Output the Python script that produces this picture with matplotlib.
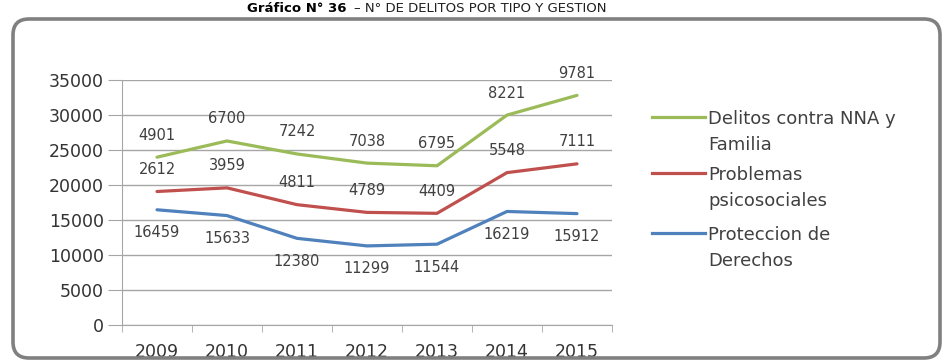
import numpy as np
import matplotlib
matplotlib.use('Agg')
import matplotlib.pyplot as plt
from matplotlib.patches import FancyBboxPatch
from matplotlib.lines import Line2D

years = ['2009', '2010', '2011', '2012', '2013', '2014', '2015']
proteccion = [16459, 15633, 12380, 11299, 11544, 16219, 15912]
problemas = [2612, 3959, 4811, 4789, 4409, 5548, 7111]
delitos = [4901, 6700, 7242, 7038, 6795, 8221, 9781]

names = ['Proteccion de\nDerechos', 'Problemas\npsicosociales', 'Delitos contra NNA y\nFamilia']
colors = ['#4F81BD', '#C0504D', '#9BBB59']

W, H = 943, 360
fig = plt.figure(figsize=(W / 100, H / 100), dpi=100)
fig.patch.set_facecolor('white')

def fx(px):
    return px / W

def fy(py):
    return 1 - py / H

# marco redondeado
frame = FancyBboxPatch((0.13, 0.02), 9.27, 3.39,
                       boxstyle='round,pad=0,rounding_size=0.16',
                       transform=fig.dpi_scale_trans, facecolor='none',
                       edgecolor='#808080', linewidth=2.6)
fig.add_artist(frame)

# titulo
t1 = fig.text(fx(247), fy(12), 'Gráfico N° 36', fontsize=9.5, fontweight='bold',
              color='black', va='baseline', ha='left')
fig.canvas.draw()
bb = t1.get_window_extent()
fig.text(bb.x1 / W + 0.008, fy(12), '– N° DE DELITOS POR TIPO Y GESTION', fontsize=9.5,
         color='#202020', va='baseline', ha='left')

ax = fig.add_axes([fx(122), fy(325), fx(612) - fx(122), fy(80) - fy(325)])
x = np.arange(len(years))
series = [np.array(proteccion), np.array(problemas), np.array(delitos)]
stacked = np.cumsum(series, axis=0)

for vals, tops, col in zip(series, stacked, colors):
    ax.plot(x, tops, color=col, linewidth=2.3, solid_capstyle='round', zorder=3)

offsets = [-23, 22, 22]
for vals, tops, off in zip(series, stacked, offsets):
    for xi, v, t in zip(x, vals, tops):
        ax.annotate(str(v), (xi, t), xytext=(0, off * 0.72), textcoords='offset points',
                    ha='center', va='center', fontsize=10.5, color='#404040', zorder=4)

ax.set_xlim(-0.5, 6.5)
ax.set_ylim(0, 35000)
ax.set_yticks(np.arange(0, 35001, 5000))
ax.set_xticks(x)
ax.set_xticklabels(years)
ax.set_xticks(np.arange(-0.5, 7, 1), minor=True)
ax.yaxis.grid(True, color='#A6A6A6', linewidth=1)
ax.set_axisbelow(True)
for s in ['top', 'right']:
    ax.spines[s].set_visible(False)
for s in ['left', 'bottom']:
    ax.spines[s].set_color('#A6A6A6')
ax.tick_params(axis='y', length=10, color='#A6A6A6', pad=3, labelsize=12.5, labelcolor='#333333')
ax.tick_params(axis='x', which='major', length=0, pad=13, labelsize=12.5, labelcolor='#333333')
ax.tick_params(axis='x', which='minor', length=5, color='#A6A6A6')

# leyenda
leg_rows = [(117, 2), (173, 1), (233, 0)]
for ly, i in leg_rows:
    fig.add_artist(Line2D([fx(652), fx(705)], [fy(ly), fy(ly)], color=colors[i],
                          linewidth=2.3, transform=fig.transFigure))
    for k, line in enumerate(names[i].split('\n')):
        fig.text(fx(708), fy(ly + 26 * k), line, fontsize=13, color='#404040',
                 va='center_baseline', ha='left')

fig.savefig('out.png', dpi=100)
